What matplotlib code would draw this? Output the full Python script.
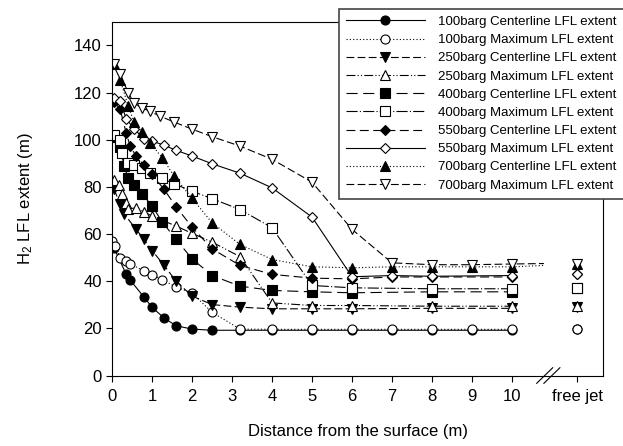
import matplotlib
matplotlib.use("Agg")
import matplotlib.pyplot as plt
import matplotlib.transforms as mtransforms

plt.rcParams['font.family'] = ['Liberation Sans', 'DejaVu Sans']
plt.rcParams['mathtext.fontset'] = 'custom'
plt.rcParams['mathtext.rm'] = 'Liberation Sans'
plt.rcParams['mathtext.it'] = 'Liberation Sans:italic'

# distance values (m) and LFL extents (m)
x_100c = [0.05, 0.35, 0.45, 0.8, 1.0, 1.3, 1.6, 2.0, 2.5, 3.2, 4, 5, 6, 7, 8, 9, 10]
y_100c = [54, 43, 40.5, 33.2, 28.9, 24.4, 21.1, 19.7, 19.2, 19.2, 19.2, 19.2, 19.2, 19.2, 19.2, 19.2, 19.2]

x_100m = [0.0, 0.07, 0.2, 0.35, 0.45, 0.8, 1.0, 1.25, 1.6, 2.0, 2.5, 3.2, 4, 5, 6, 7, 8, 9, 10]
y_100m = [57, 55, 50, 48.5, 47.5, 44.2, 42.8, 40.7, 37.5, 35, 26.8, 19.7, 19.6, 19.6, 19.6, 19.6, 19.6, 19.6, 19.6]

x_250c = [0.05, 0.2, 0.3, 0.6, 0.8, 1.0, 1.3, 1.6, 2.0, 2.5, 3.2, 4, 5, 6, 8, 10]
y_250c = [79, 72.6, 68.6, 62, 57.7, 53, 46.7, 40, 33.7, 30.1, 29, 28.3, 28.3, 28.3, 28.5, 28.5]

x_250m = [0.05, 0.17, 0.25, 0.35, 0.4, 0.6, 0.8, 1.0, 1.6, 2.0, 2.5, 3.2, 4, 5, 6, 8, 10]
y_250m = [83, 81, 76.8, 73.3, 70.7, 71.1, 69.4, 67.6, 63.4, 60.3, 56.6, 50.4, 30.8, 29.7, 29.7, 29.4, 29.4]

x_400c = [0.05, 0.2, 0.3, 0.4, 0.55, 0.75, 1.0, 1.25, 1.6, 2.0, 2.5, 3.2, 4, 5, 6, 8, 10]
y_400c = [101, 97, 88.8, 83.9, 81, 77, 71.9, 65.2, 57.7, 49.5, 42.4, 37.9, 36.1, 35.5, 35.1, 35.5, 35.5]

x_400m = [0.05, 0.2, 0.25, 0.4, 0.55, 0.75, 0.95, 1.25, 1.55, 2.0, 2.5, 3.2, 4, 5, 6, 8, 10]
y_400m = [102, 99.9, 94.5, 90.2, 89.2, 88.1, 86, 83.6, 81.3, 78.2, 75, 70.4, 62.7, 38.2, 37.2, 36.8, 36.8]

x_550c = [0.05, 0.2, 0.35, 0.45, 0.6, 0.8, 1.0, 1.3, 1.6, 2.0, 2.5, 3.2, 4, 5, 6, 7, 8, 10]
y_550c = [116, 112.9, 103, 97.3, 93, 89.2, 85.3, 78.9, 71.6, 62.9, 53.7, 46.7, 42.9, 41.3, 41.0, 41.8, 41.8, 41.8]

x_550m = [0.05, 0.2, 0.35, 0.55, 0.8, 1.0, 1.3, 1.6, 2.0, 2.5, 3.2, 4, 5, 6, 7, 8, 10]
y_550m = [117.5, 116.4, 109, 104.5, 100.4, 99.4, 97.7, 95.5, 93.1, 89.8, 85.8, 79.6, 67.2, 41.9, 42.4, 42.1, 42.4]

x_700c = [0.05, 0.2, 0.4, 0.55, 0.75, 0.95, 1.25, 1.55, 2.0, 2.5, 3.2, 4, 5, 6, 7, 8, 9, 10, 10.8]
y_700c = [132, 125.5, 114.3, 107.5, 103.3, 98.7, 92.4, 84.6, 75.1, 64.8, 55.6, 49.2, 46.1, 45.7, 46.1, 46.1, 46.1, 46.1, 46.7]

x_700m = [0.05, 0.2, 0.4, 0.55, 0.75, 0.95, 1.2, 1.55, 2.0, 2.5, 3.2, 4, 5, 6, 7, 8, 9, 10, 10.8]
y_700m = [132, 128, 120, 115.5, 113.5, 112, 110, 107.5, 104.5, 101.3, 97.3, 91.7, 82, 62, 47.8, 47, 47, 47.3, 47.5]

# free jet values
free_jet_x = 11.64
fj_100c = 19.6
fj_100m = 19.6
fj_250c = 29.2
fj_250m = 29.7
fj_400c = 37.0
fj_400m = 37.2
fj_550c = 42.9
fj_550m = 42.9
fj_700c = 47.5
fj_700m = 47.5

labels = ['100barg Centerline LFL extent', '100barg Maximum LFL extent',
          '250barg Centerline LFL extent', '250barg Maximum LFL extent',
          '400barg Centerline LFL extent', '400barg Maximum LFL extent',
          '550barg Centerline LFL extent', '550barg Maximum LFL extent',
          '700barg Centerline LFL extent', '700barg Maximum LFL extent']

series = [
    (x_100c, y_100c, fj_100c, '-', 'o', 'k'),
    (x_100m, y_100m, fj_100m, (0, (1, 2)), 'o', 'w'),
    (x_250c, y_250c, fj_250c, (0, (7, 3)), 'v', 'k'),
    (x_250m, y_250m, fj_250m, (0, (8, 2, 1, 2, 1, 2)), '^', 'w'),
    (x_400c, y_400c, fj_400c, (0, (10, 5)), 's', 'k'),
    (x_400m, y_400m, fj_400m, (0, (10, 2, 1, 2)), 's', 'w'),
    (x_550c, y_550c, fj_550c, (0, (8, 4)), 'D', 'k'),
    (x_550m, y_550m, fj_550m, '-', 'D', 'w'),
    (x_700c, y_700c, fj_700c, (0, (1, 2)), '^', 'k'),
    (x_700m, y_700m, fj_700m, (0, (7, 3)), 'v', 'w'),
]

fig = plt.figure(figsize=(6.23, 4.46), dpi=100)
ax = fig.add_axes([0.18, 0.158, 0.788, 0.793])

for (xs, ys, fj, ls, mk, fc), lab in zip(series, labels):
    n = sum(1 for v in xs if v <= 10)
    ms = 5.5 if mk == 'D' else 6.5
    ax.plot(xs, ys, linestyle=ls, color='k', linewidth=0.8, marker=mk,
            markersize=ms, markerfacecolor=fc, markeredgecolor='k',
            markeredgewidth=0.8, markevery=list(range(n)), label=lab)
    ax.plot([free_jet_x], [fj], linestyle='none', marker=mk, markersize=ms,
            markerfacecolor=fc, markeredgecolor='k', markeredgewidth=0.8)

ax.set_xlim(0, 12.28)
ax.set_ylim(0, 150)
ax.set_yticks(range(0, 141, 20))
ax.set_xticks(list(range(0, 11)) + [free_jet_x])
ax.set_xticklabels([str(i) for i in range(0, 11)] + ['free jet'])
ax.tick_params(direction='out', labelsize=12, length=4, width=0.8)
ax.tick_params(axis='x', pad=6)
ax.set_xlabel('Distance from the surface (m)', fontsize=12, labelpad=14)
ax.set_ylabel('H$_2$ LFL extent (m)', fontsize=12, labelpad=28)
for s in ax.spines.values():
    s.set_linewidth(0.8)

# axis break marks
trans = mtransforms.blended_transform_factory(ax.transData, ax.transAxes)
for x0 in (10.62, 10.8):
    ax.plot([x0, x0 + 0.4], [-0.022, 0.022], color='k', linewidth=0.8,
            transform=trans, clip_on=False)

leg = fig.legend(*ax.get_legend_handles_labels(), loc='upper left',
                 bbox_to_anchor=(332 / 623, 1 - 2 / 446), fontsize=9.5,
                 numpoints=1, handlelength=6, handletextpad=1.0,
                 labelspacing=0.45, borderpad=0.55, fancybox=False,
                 framealpha=1, edgecolor='#444444')
leg.get_frame().set_linewidth(1.2)

fig.savefig('out.png', dpi=100)
